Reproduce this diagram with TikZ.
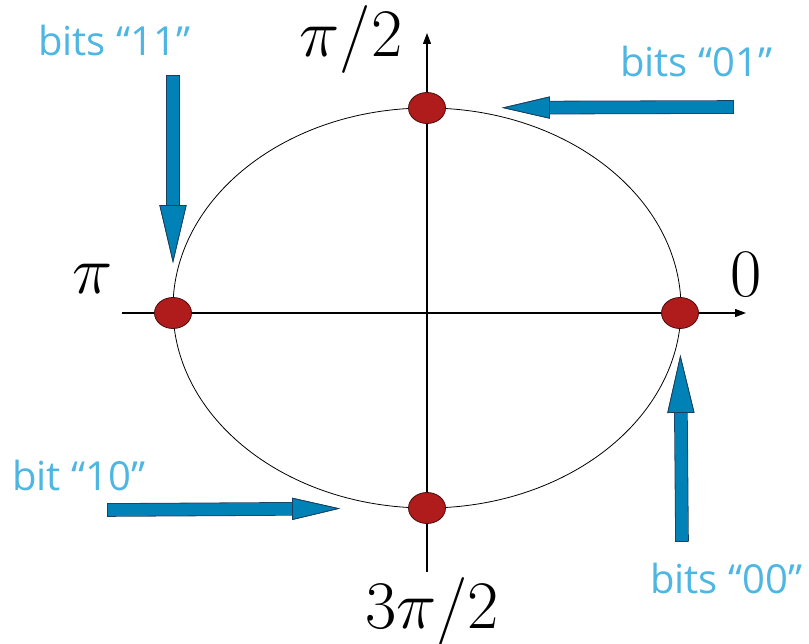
\RequirePackage{fix-cm}
\documentclass[tikz,border=0pt]{standalone}
\usepackage{fontspec}
\newfontfamily\bitsfont{Open Sans}
\usepackage{xcolor}
\definecolor{cArrow}{HTML}{0082B6}
\definecolor{cArrowLine}{HTML}{1B3F5E}
\definecolor{cDot}{HTML}{B01B1B}
\definecolor{cDotLine}{HTML}{4A0C0C}
\definecolor{cLabel}{HTML}{4DB6E2}
\usepackage{tikz}
\usetikzlibrary{arrows.meta,shapes.geometric}
\tikzset{
  node-dot/.style={ellipse,draw=cDotLine,line width=0.8pt,fill=cDot,
    inner sep=0pt,minimum width=37pt,minimum height=31pt},
  node-bits/.style={text=cLabel,font=\bitsfont\fontsize{40}{40}\selectfont,
    inner sep=0pt,anchor=base west},
  node-phase/.style={font=\fontsize{68}{68}\selectfont,inner sep=0pt,anchor=base},
  % pointer: blue shaft + triangle head, thin dark outline
  arrow-bits/.style 2 args={draw=cArrow,line width=12pt,
    -{Triangle[length=#1,width=#2,line width=0.8pt,color=cArrowLine,fill=cArrow]},
    preaction={draw=cArrowLine,line width=13.6pt,shorten <=-0.8pt,
      -{Triangle[length=#1,width=#2,line width=0.8pt]}}},
  arrow-axis/.style={-{Triangle[length=11pt,width=8pt]},line width=1.2pt},
  curve/.style={line width=0.8pt},
}

\begin{document}
\begin{tikzpicture}[x=1pt,y=-1pt]
  \useasboundingbox (0,0) rectangle (809,644);
  % axes and circle
  \coordinate (x-start) at (122,313);
  \coordinate (x-end) at (746,313);
  \coordinate (y-start) at (427,572);
  \coordinate (y-end) at (427,33);
  \draw[arrow-axis] (x-start) -- (x-end);
  \draw[arrow-axis] (y-start) -- (y-end);
  \draw[curve] (427,308) ellipse [x radius=254,y radius=200];
  % constellation points
  \node[node-dot] (p0) at (680,313) {};
  \node[node-dot] (p1) at (427,108) {};
  \node[node-dot] (p2) at (173,313) {};
  \node[node-dot] (p3) at (427,508) {};
  % phases
  \node[node-phase] (l0) at (746,297) {$0$};
  \node[node-phase] (l1) at (351,57) {$\pi/2$};
  \node[node-phase] (l2) at (93,294) {$\pi$};
  \node[node-phase] (l3) at (432,628) {$3\pi/2$};
  % bit labels
  \node[node-bits] (b11) at (38,56) {bits “11”};
  \node[node-bits] (b01) at (620,77) {bits “01”};
  \node[node-bits] (b10) at (12,490) {bit “10”};
  \node[node-bits] (b00) at (650,593) {bits “00”};
  % pointers
  \coordinate (t11) at (173,76);
  \coordinate (t01) at (733,107);
  \coordinate (t10) at (108,510);
  \coordinate (t00) at (682,541);
  \draw[arrow-bits={58pt}{27pt},shorten >=34pt] (t11) -- (p2);
  \draw[arrow-bits={48pt}{22pt},shorten >=56pt] (t01) -- (p1);
  \draw[arrow-bits={48pt}{22pt},shorten >=68pt] (t10) -- (p3);
  \draw[arrow-bits={58pt}{27pt},shorten >=26pt] (t00) -- (p0);
\end{tikzpicture}
\end{document}
